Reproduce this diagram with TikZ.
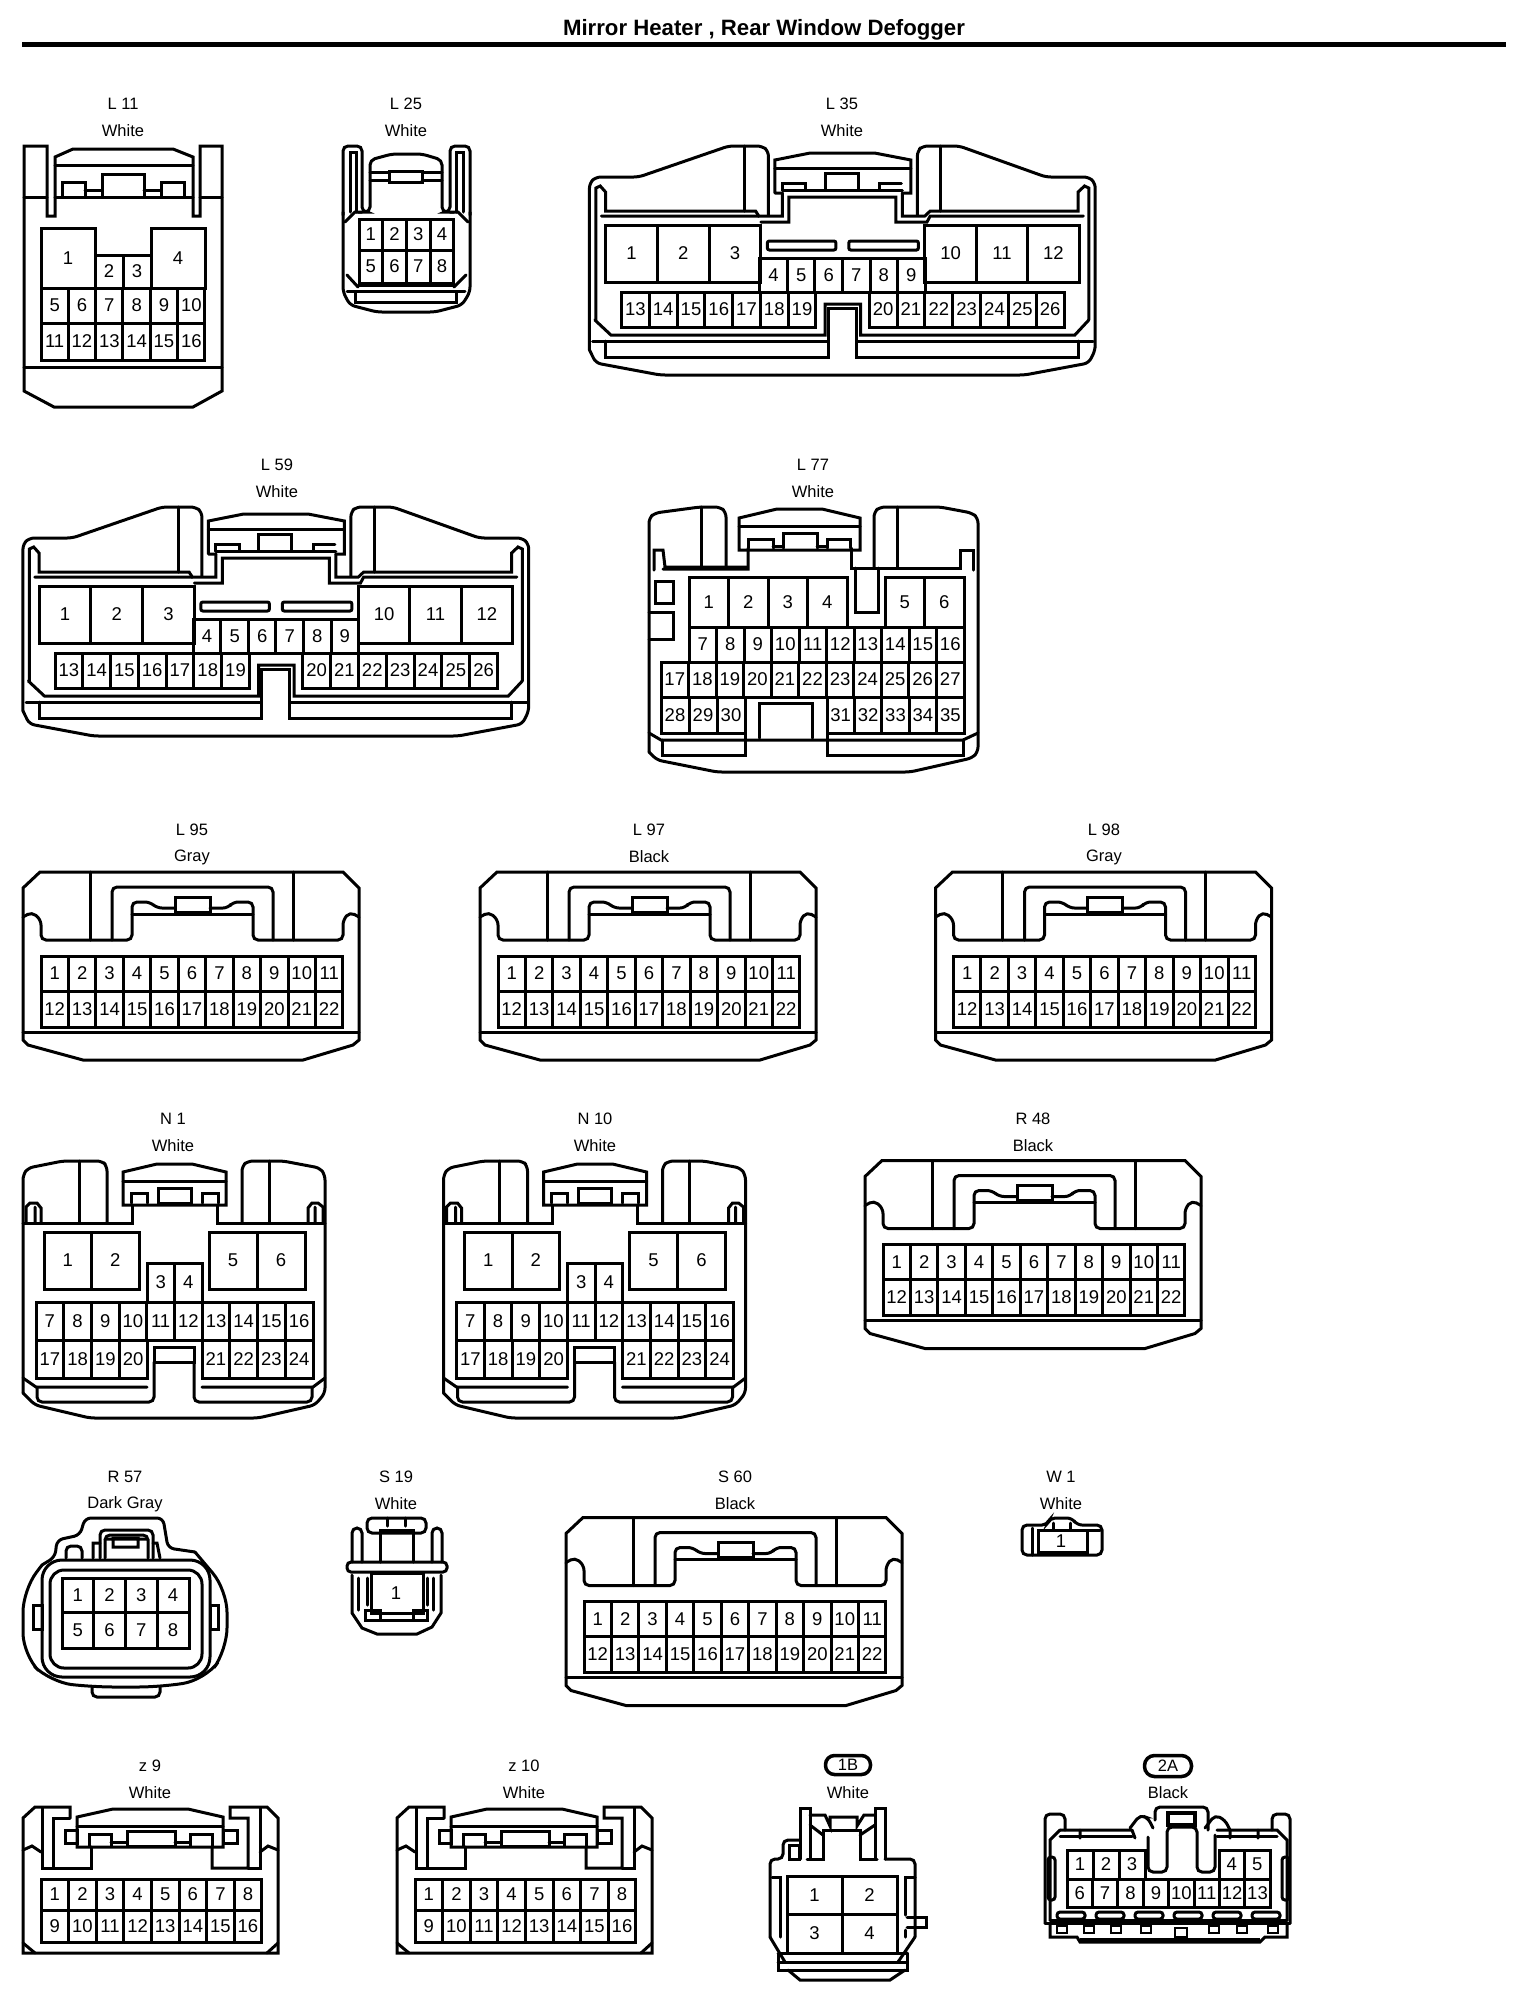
\documentclass[tikz,border=0pt]{standalone}
\usepackage{fontspec}
\setmainfont{Liberation Sans}
\tikzset{
  ln/.style={line width=3pt,line join=miter,line cap=round},
  rnd/.style={ln,rounded corners=5pt},
  pinbox/.style={line width=3pt,line join=miter},
  pintext/.style={inner sep=0pt,font=\fontsize{18.5}{18.5}\selectfont},
  lab/.style={inner sep=0pt,font=\fontsize{16.5}{16.5}\selectfont},
}
\newcommand{\pinrow}[5]{%
  \foreach \pinlabel [count=\pini from 0] in {#5}{%
    \pgfmathsetmacro{\pinxa}{#1+\pini*(#3)}%
    \pgfmathsetmacro{\pinxb}{\pinxa+(#3)}%
    \draw[pinbox] (\pinxa,#2) rectangle (\pinxb,#4);
    \node[pintext] at ({(\pinxa+\pinxb)/2},{(#2+#4)/2}) {\pinlabel};
  }}
\newcommand{\lab}[4]{%
  \node[lab] at (#1,#2) {#3};
  \node[lab] at (#1,#2+27) {#4};}
% ---------- 26 pin connector (L35, L59)
\newcommand{\connLong}{%
\begin{scope}[shift={(-39.5,0)},xscale=1.0715]
  \draw[rnd] (587,350) -- (587,183) -- (593,177) -- (633,177) -- (717,146) -- (748,146) -- (754,151) -- (754,215);
  \draw[rnd] (587,350) -- (593,363) -- (653,375) -- (993,375) -- (1053,363) -- (1059,350) -- (1059,183) -- (1053,177) -- (1013,177) -- (932,146) -- (898,146) -- (893,151) -- (893,215);
  \draw[ln] (732,146) -- (732,211) (915,146) -- (915,211);
  \draw[ln] (593,320) -- (593,188) -- (597,186) -- (602,192) -- (602,211) -- (742,211) -- (745,216) -- (767,216) -- (767,193);
  \draw[ln] (598,216) -- (745,216) (747,222) -- (773,222) -- (773,197) -- (873,197) -- (873,222) -- (902,222) -- (905,216) -- (1048,216);
  \draw[ln] (879,193) -- (879,216) -- (900,216) -- (905,211) -- (1043,211) -- (1043,192) -- (1049,186) -- (1053,188) -- (1053,320);
  \draw[ln] (760,193) -- (760,160) -- (793,153) -- (853,153) -- (887,160) -- (887,193) -- (879,193) (767,193) -- (760,193);
  \draw[ln] (760,168) -- (887,168);
  \draw[ln] (807,190) rectangle (838,173) (767,190) -- (767,183) -- (789,183) -- (789,190) (858,190) -- (858,183) -- (878,183);
  \draw[ln] (767,190) -- (879,190);
  \draw[ln,rounded corners=2pt] (753,241) rectangle (817,250) (829,241) rectangle (894,250);
  \pinrow{602}{225}{48.3}{282}{1,2,3}
  \pinrow{900}{225}{48}{282}{10,11,12}
  \pinrow{746}{258}{25.7}{292}{4,5,6,7,8,9}
  \pinrow{617}{292}{25.9}{327}{13,14,15,16,17,18,19}
  \pinrow{848}{292}{26}{327}{20,21,22,23,24,25,26}
  \draw[ln] (592,320) -- (607,335) -- (807,335) -- (807,304) -- (840,304) -- (840,335) -- (1040,335) -- (1053,320);
  \draw[ln] (590,341) -- (810,341) -- (810,308) -- (836,308) -- (836,341) -- (1057,341);
  \draw[ln] (602,341) -- (602,357) -- (810,357) -- (810,341) (836,341) -- (836,357) -- (1043,357) -- (1043,341);
\end{scope}
}
% ---------- 22 pin connector (L95, L97, L98, R48, S60)
\newcommand{\connWide}{%
  \draw[ln] (23,1040) -- (23,888) -- (40,872) -- (343,872) -- (359,888) -- (359,1040) -- (353,1045) -- (303,1060) -- (83,1060) -- (28,1045) -- cycle;
  \draw[rnd] (23,917) -- (32,912) -- (41,920) -- (41,940) -- (132,940) -- (132,902) -- (150,902) -- (157,908) -- (175,908);
  \draw[rnd] (359,917) -- (350,912) -- (343,920) -- (343,940) -- (253,940) -- (253,902) -- (233,902) -- (228,908) -- (210,908);
  \draw[ln] (132,914) -- (253,914);
  \draw[ln] (175,912) rectangle (210,897);
  \draw[rnd] (90,940) -- (90,872) (293,940) -- (293,872);
  \draw[rnd] (112,940) -- (112,887) -- (273,887) -- (273,940);
  \draw[ln] (23,1032) -- (359,1032);
  \pinrow{41}{956}{27.45}{991}{1,2,3,4,5,6,7,8,9,10,11}
  \pinrow{41}{991}{27.45}{1027}{12,13,14,15,16,17,18,19,20,21,22}
}
% ---------- 24 pin connector (N1, N10)
\newcommand{\connN}{%
  \draw[rnd] (23,1393) -- (23,1175) -- (28,1168) -- (63,1161) -- (102,1161) -- (107,1166) -- (107,1223);
  \draw[rnd] (23,1393) -- (35,1405) -- (90,1418) -- (258,1418) -- (315,1405) -- (325,1393) -- (325,1175) -- (320,1168) -- (283,1161) -- (248,1161) -- (242,1166) -- (242,1223);
  \draw[ln] (79,1161) -- (79,1223) (269,1161) -- (269,1223);
  \draw[ln] (26,1223) -- (26,1207) -- (30,1203) -- (37,1203) -- (41,1208) -- (41,1223) (35,1207) -- (35,1223);
  \draw[ln] (23,1223) -- (132,1223) -- (132,1205) (217,1205) -- (217,1223) -- (325,1223);
  \draw[ln] (323,1223) -- (323,1207) -- (318,1203) -- (312,1203) -- (308,1208) -- (308,1223) (315,1207) -- (315,1223);
  \draw[ln] (123,1205) -- (123,1172) -- (157,1164) -- (192,1164) -- (226,1172) -- (226,1205) -- cycle;
  \draw[ln] (123,1181) -- (226,1181);
  \draw[ln] (158,1203) rectangle (191,1188) (131,1203) -- (131,1193) -- (147,1193) -- (147,1203) (202,1203) -- (202,1193) -- (218,1193) -- (218,1203);
  \pinrow{44}{1232}{47.5}{1289}{1,2}
  \pinrow{209}{1232}{48}{1289}{5,6}
  \pinrow{147}{1263}{27.5}{1302}{3,4}
  \pinrow{36}{1302}{27.7}{1340}{7,8,9,10,11,12,13,14,15,16}
  \pinrow{36}{1340}{27.75}{1378}{17,18,19,20}
  \pinrow{202}{1340}{27.75}{1378}{21,22,23,24}
  \draw[ln] (154,1362) -- (154,1347) -- (194,1347) -- (194,1362) -- cycle;
  \draw[rnd] (154,1362) -- (154,1402) -- (37,1402) -- (37,1387) (194,1362) -- (194,1402) -- (312,1402) -- (312,1387);
  \draw[ln] (23,1378) -- (36,1387) -- (147,1387) (202,1387) -- (313,1387) -- (325,1378);
}
% ---------- 16 pin connector (z9, z10)
\newcommand{\connZ}{%
  \draw[ln] (70,1818) -- (70,1807) -- (35,1807) -- (23,1818) -- (23,1953) -- (278,1953) -- (278,1818) -- (267,1807) -- (230,1807) -- (230,1818) -- (248,1818) -- (248,1868) -- (212,1868) -- (212,1847);
  \draw[ln] (70,1818) -- (53,1818) -- (53,1868) -- (91,1868) -- (91,1847);
  \draw[ln] (42,1808) -- (42,1868) -- (53,1868) (260,1808) -- (260,1868) -- (248,1868);
  \draw[ln] (23,1850) -- (32,1846) -- (41,1852) (260,1852) -- (268,1846) -- (278,1850);
  \draw[ln] (77,1847) -- (77,1817) -- (113,1809) -- (188,1809) -- (223,1817) -- (223,1847) -- cycle;
  \draw[ln] (77,1826) -- (223,1826);
  \draw[ln] (65,1830) rectangle (77,1843) (223,1830) rectangle (237,1843);
  \draw[ln] (127,1846) rectangle (175,1831) (89,1846) -- (89,1834) -- (111,1834) -- (111,1846) (190,1846) -- (190,1834) -- (212,1834) -- (212,1846);
  \draw[ln] (111,1842) -- (127,1842) (175,1842) -- (190,1842);
  \pinrow{41}{1879}{27.6}{1910}{1,2,3,4,5,6,7,8}
  \pinrow{41}{1910}{27.6}{1942}{9,10,11,12,13,14,15,16}
  \draw[ln] (23,1943) -- (35,1953) (278,1943) -- (267,1953);
}
\begin{document}
\begin{tikzpicture}[x=1pt,y=-1pt]
\useasboundingbox (0,0) rectangle (1536,1998);
\fill[white] (0,0) rectangle (1536,1998);
% title
\node[inner sep=0pt,font=\bfseries\fontsize{22.2}{22}\selectfont] (title) at (764,30) {Mirror Heater , Rear Window Defogger};
\draw[line width=5pt] (22,44) -- (1506,44);

% ---------- L 11
\lab{123}{104}{L 11}{White}
\draw[ln] (47,216) -- (47,146) -- (24,146) -- (24,391) -- (54,407) -- (193,407) -- (222,391) -- (222,146) -- (200,146) -- (200,216) -- (193,216) -- (193,157) -- (173,149) -- (73,149) -- (55,157) -- (55,216) -- cycle;
\draw[ln] (24,197) -- (47,197) (55,197) -- (193,197) (200,197) -- (222,197);
\draw[ln] (55,165) -- (193,165) (24,367) -- (222,367);
\draw[ln] (102,196) -- (102,174) -- (144,174) -- (144,196) (62,196) -- (62,182) -- (85,182) -- (85,196) (161,196) -- (161,182) -- (184,182) -- (184,196) (85,190) -- (102,190) (144,190) -- (161,190);
\pinrow{41}{228}{54}{288}{1}
\pinrow{151}{228}{54}{288}{4}
\pinrow{95}{255}{28}{288}{2,3}
\pinrow{41}{288}{27.33}{323}{5,6,7,8,9,10}
\pinrow{41}{323}{27.33}{360}{11,12,13,14,15,16}

% ---------- L 25
\lab{406}{104}{L 25}{White}
\draw[rnd] (343,215) -- (343,146) -- (362,146) -- (362,212) -- (370,212) -- (370,160) -- (392,154) -- (422,154) -- (442,160) -- (442,212) -- (450,212) -- (450,146) -- (470,146) -- (470,215);
\draw[ln] (350,212) -- (350,152) -- (356,152) -- (356,212) (456,212) -- (456,152) -- (463,152) -- (463,212);
\draw[ln] (370,172) -- (389,172) (422,172) -- (442,172) (370,180) -- (389,180) (422,180) -- (442,180);
\draw[ln] (389,171) rectangle (422,182);
\draw[rnd] (343,212) -- (343,292) -- (350,305) -- (377,312) -- (435,312) -- (462,305) -- (470,292) -- (470,212);
\draw[ln] (345,222) -- (355,212) -- (362,212) (468,222) -- (458,212) -- (450,212);
\draw[ln] (347,275) -- (358,287) (466,275) -- (454,287);
\draw[ln] (355,291) rectangle (456,302);
\draw[ln] (358,285) -- (454,285);
\draw[ln] (347,291) -- (465,291);
\pinrow{359}{219}{23.7}{250}{1,2,3,4}
\pinrow{359}{250}{23.7}{283}{5,6,7,8}

% ---------- L 35, L 59
\lab{842}{104}{L 35}{White}
\connLong
\lab{277}{465}{L 59}{White}
\begin{scope}[shift={(-566.5,361)}] \connLong \end{scope}

% ---------- L 77
\lab{813}{465}{L 77}{White}
\draw[rnd] (649,752) -- (649,518) -- (655,513) -- (700,507) -- (720,507) -- (726,512) -- (726,568);
\draw[rnd] (649,752) -- (657,760) -- (717,772) -- (910,772) -- (972,758) -- (978,752) -- (978,518) -- (972,513) -- (940,507) -- (880,507) -- (874,512) -- (874,568);
\draw[ln] (701,507) -- (701,567) (897,507) -- (897,567);
\draw[ln] (654,570) -- (654,550) -- (663,550) -- (665,567) -- (746,567) (663,569) -- (748,569) -- (748,548);
\draw[ln] (851,548) -- (851,568) -- (960,568) -- (960,550) -- (973,550) -- (973,570);
\draw[ln] (739,550) -- (739,518) -- (777,509) -- (822,509) -- (860,518) -- (860,550) -- cycle;
\draw[ln] (739,526) -- (860,526);
\draw[ln] (783,548) -- (783,533) -- (817,533) -- (817,548) (748,548) -- (748,539) -- (773,539) -- (773,548) (827,548) -- (827,539) -- (850,539) -- (850,548) (773,546) -- (783,546) (817,546) -- (827,546);
\draw[ln] (855,568) -- (855,612) -- (878,612) -- (878,568);
\draw[ln] (655,581) rectangle (673,603);
\draw[ln] (649,612) -- (673,612) -- (673,639) -- (649,639);
\pinrow{689}{577}{39.5}{627}{1,2,3,4}
\pinrow{885}{577}{39.5}{627}{5,6}
\pinrow{689}{627}{27.5}{662}{7,8,9,10,11,12,13,14,15,16}
\pinrow{661}{662}{27.55}{697}{17,18,19,20,21,22,23,24,25,26,27}
\pinrow{661}{697}{28}{733}{28,29,30}
\pinrow{827}{697}{27.4}{733}{31,32,33,34,35}
\draw[ln] (759,738) -- (759,703) -- (812,703) -- (812,738);
\draw[ln] (649,733) -- (661,740) -- (963,740) -- (978,733);
\draw[ln] (662,740) -- (662,755) -- (745,755) -- (745,733) (827,733) -- (827,755) -- (963,755) -- (963,740);

% ---------- row 3
\lab{192}{830}{L 95}{Gray}
\connWide
\lab{649}{830}{L 97}{Black}
\begin{scope}[shift={(457,0)}] \connWide \end{scope}
\lab{1104}{830}{L 98}{Gray}
\begin{scope}[shift={(912.5,0)}] \connWide \end{scope}

% ---------- row 4
\lab{173}{1119}{N 1}{White}
\connN
\lab{595}{1119}{N 10}{White}
\begin{scope}[shift={(420.5,0)}] \connN \end{scope}
\lab{1033}{1119}{R 48}{Black}
\begin{scope}[shift={(842,288.5)}] \connWide \end{scope}

% ---------- R 57
\lab{125}{1477}{R 57}{Dark Gray}
\draw[ln,rounded corners=6pt] (42,1565) -- (55,1557) -- (57,1540) -- (80,1535) -- (85,1518) -- (163,1518) -- (168,1548) -- (195,1552);
\draw[ln,rounded corners=22pt] (42,1565) -- (23,1590) -- (23,1655) -- (50,1682) -- (92,1687) -- (160,1687) -- (205,1680) -- (227,1650) -- (227,1590) -- (195,1552);
\draw[ln,rounded corners=20pt] (42,1560) rectangle (210,1677);
\draw[ln,rounded corners=14pt] (50,1570) rectangle (202,1668);
\draw[ln] (33,1605) rectangle (42,1629) (210,1605) rectangle (218,1629);
\draw[rnd] (92,1687) -- (92,1697) -- (160,1697) -- (160,1687);
\draw[rnd] (100,1558) -- (100,1530) -- (153,1530) -- (153,1558);
\draw[rnd] (105,1558) -- (105,1535) -- (148,1535) -- (148,1558);
\draw[ln] (113,1538) rectangle (138,1547) (105,1539) -- (148,1539) (93,1558) -- (93,1543) -- (100,1543) (160,1558) -- (157,1543) -- (153,1543);
\draw[rnd] (66,1558) -- (66,1546) -- (82,1546) -- (82,1558);
\pinrow{62}{1578}{31.75}{1612}{1,2,3,4}
\pinrow{62}{1612}{31.75}{1648}{5,6,7,8}

% ---------- S 19
\lab{396}{1477}{S 19}{White}
\draw[ln,rounded corners=4pt] (347,1562) rectangle (447,1572);
\draw[ln] (352,1575) -- (352,1613) -- (362,1628) -- (377,1634) -- (417,1634) -- (432,1627) -- (441,1613) -- (441,1575);
\draw[ln] (371,1573) rectangle (423,1613);
\draw[ln] (365,1610) rectangle (380,1620) (413,1610) rectangle (427,1620) (380,1620) -- (413,1620);
\draw[ln] (358,1578) -- (358,1610) (367,1578) -- (367,1605) (427,1578) -- (427,1605) (433,1578) -- (433,1610);
\draw[rnd] (352,1562) -- (352,1528) -- (362,1528) -- (362,1562) (432,1562) -- (432,1528) -- (442,1528) -- (442,1562);
\draw[ln] (380,1562) -- (380,1530) -- (413,1530) -- (413,1562);
\draw[ln,rounded corners=5pt] (367,1518) rectangle (426,1533);
\draw[ln] (387,1518) -- (387,1526) (405,1518) -- (405,1526);
\node[pintext] at (396,1593) {1};

% ---------- S 60
\lab{735}{1477}{S 60}{Black}
\begin{scope}[shift={(543,645.5)}] \connWide \end{scope}

% ---------- W 1
\lab{1061}{1477}{W 1}{White}
\draw[rnd] (1022,1555) -- (1022,1525) -- (1047,1525) -- (1050,1518) -- (1072,1518) -- (1077,1525) -- (1102,1525) -- (1102,1555) -- cycle;
\draw[ln] (1032,1528) -- (1032,1555);
\draw[ln] (1038,1530) rectangle (1087,1552);
\draw[ln] (1053,1523) -- (1053,1530) (1070,1523) -- (1070,1530) (1087,1530) -- (1100,1530);
\node[pintext] at (1061,1541) {1};

% ---------- z 9, z 10
\lab{150}{1766}{z 9}{White}
\connZ
\lab{524}{1766}{z 10}{White}
\begin{scope}[shift={(374,0)}] \connZ \end{scope}

% ---------- 1B
\node[draw,line width=3.5pt,rounded corners=9pt,minimum width=45pt,minimum height=19pt,inner sep=0pt,font=\fontsize{16.5}{16.5}\selectfont] (oneb) at (848,1765) {1B};
\node[lab] at (848,1793) {White};
\draw[rnd] (770,1937) -- (770,1859) -- (783,1859) -- (783,1840) -- (800,1840);
\draw[ln] (800,1859) -- (800,1808) -- (810,1808) -- (810,1859);
\draw[ln] (875,1859) -- (875,1808) -- (885,1808) -- (885,1859);
\draw[rnd] (885,1859) -- (915,1859) -- (915,1937);
\draw[ln] (789,1845) rectangle (799,1859);
\draw[ln] (807,1859) -- (823,1859) -- (823,1830) -- (860,1830) -- (860,1859) -- (877,1859);
\draw[ln] (810,1815) -- (825,1815) -- (830,1826) -- (830,1817) -- (857,1817) -- (857,1826) -- (864,1815) -- (875,1815);
\draw[ln] (810,1825) -- (823,1835) (875,1825) -- (860,1835);
\draw[ln] (770,1937) -- (785,1962) (915,1937) -- (898,1962);
\draw[ln] (772,1877) -- (780,1877) -- (780,1937) (905,1937) -- (905,1930) (905,1915) -- (905,1877) -- (915,1877);
\draw[ln] (907,1917) -- (926,1917) -- (926,1927) -- (907,1927);
\draw[ln] (778,1953) -- (778,1970) -- (907,1970) -- (907,1953) (778,1962) -- (907,1962) (778,1953) -- (907,1953);
\draw[ln] (788,1970) -- (800,1980) -- (890,1980) -- (905,1970);
\pinrow{787}{1876}{55}{1914}{1,2}
\pinrow{787}{1914}{55}{1953}{3,4}

% ---------- 2A
\node[draw,line width=3.5pt,rounded corners=10pt,minimum width=47pt,minimum height=21pt,inner sep=0pt,font=\fontsize{16.5}{16.5}\selectfont] (twoa) at (1168,1766) {2A};
\node[lab] at (1168,1793) {Black};
\draw[rnd] (1045,1923) -- (1045,1814) -- (1065,1814) -- (1065,1830);
\draw[rnd] (1290,1923) -- (1290,1814) -- (1272,1814) -- (1272,1830);
\draw[ln] (1060,1830) -- (1132,1830) (1217,1830) -- (1277,1830) -- (1287,1840) -- (1287,1920);
\draw[ln] (1060,1830) -- (1050,1840) -- (1050,1920);
\draw[ln] (1060,1836) -- (1132,1836) (1217,1836) -- (1277,1836);
\draw[ln] (1080,1830) -- (1080,1838) (1132,1830) -- (1135,1838) (1230,1830) -- (1230,1838) (1258,1830) -- (1258,1838);
\draw[rnd] (1130,1828) -- (1140,1815) -- (1148,1818) -- (1153,1828) (1205,1828) -- (1215,1815) -- (1225,1820) -- (1230,1830);
\draw[rnd] (1148,1837) -- (1148,1872) -- (1167,1872) -- (1167,1827) -- (1197,1827) -- (1197,1872) -- (1215,1872) -- (1215,1835);
\draw[rnd] (1155,1820) -- (1155,1807) -- (1208,1807) -- (1208,1830);
\draw[line width=4pt] (1168,1825) rectangle (1195,1813);
\draw[ln,rounded corners=3pt] (1048,1857) rectangle (1055,1900) (1282,1857) rectangle (1289,1900);
\pinrow{1067}{1850}{26}{1879}{1,2,3}
\pinrow{1219}{1850}{25.5}{1879}{4,5}
\pinrow{1067}{1879}{25.4}{1907}{6,7,8,9,10,11,12,13}
\foreach \ovx in {1057,1096,1135,1174,1213,1252}
  \draw[ln,rounded corners=3pt] (\ovx,1912) rectangle ++(28,7);
\draw[ln] (1045,1923) -- (1290,1923) (1050,1920) -- (1287,1920);
\draw[ln] (1050,1925) -- (1050,1937) -- (1077,1937) -- (1080,1942) -- (1260,1942) -- (1265,1937) -- (1287,1937) -- (1287,1925);
\draw[line width=4pt] (1080,1940) -- (1260,1940);
\foreach \ovx in {1057,1084,1111,1141,1209,1237,1268}
  \draw[line width=2.5pt] (\ovx,1926) rectangle ++(10,7);
\draw[line width=2.5pt] (1175,1928) rectangle (1187,1937);
\end{tikzpicture}
\end{document}
